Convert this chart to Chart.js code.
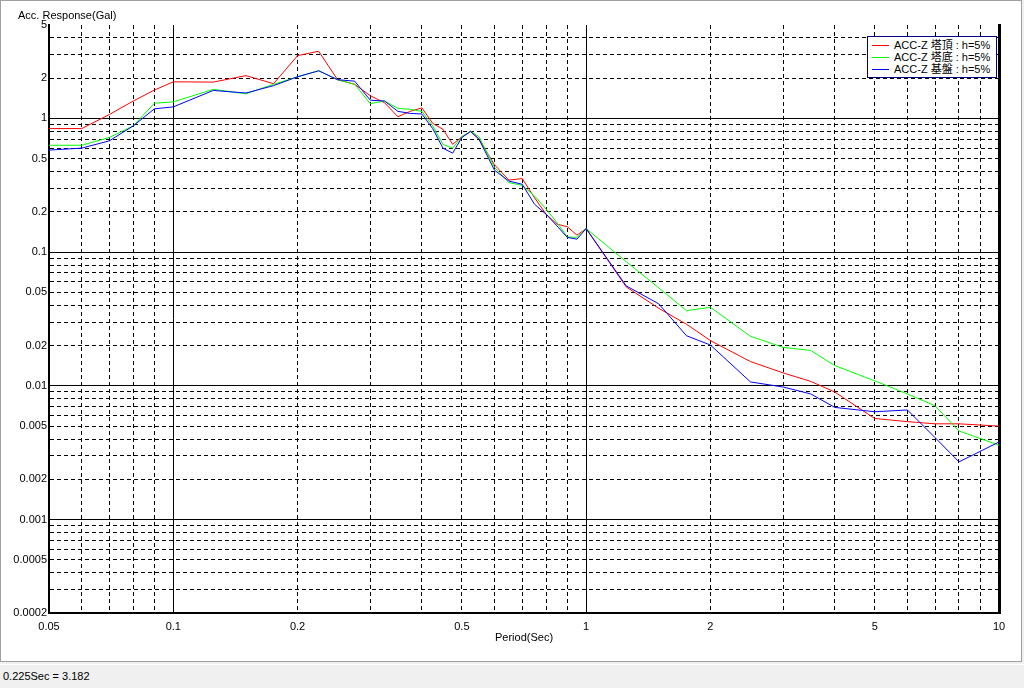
<!DOCTYPE html>
<html lang="ja">
<head>
    <meta charset="UTF-8">
    <title>Acc. Response</title>
    <script src="https://cdn.jsdelivr.net/npm/chart.js"></script>
    <style>
        body { margin: 0; background: #f0f0f0; font-family: "Liberation Sans", Arial, sans-serif; }
        #frame { position: absolute; left: 0; top: 0; width: 1020px; height: 660px; border: 1px solid #a0a0a0; background: #fff; }
        #frame canvas { position: absolute; left: 0; top: 0; }
        #ytitle { position: absolute; left: 17px; top: 8px; font-size: 11px; line-height: 13px; color: #000; }
        #legend { position: absolute; left: 866px; top: 35px; width: 128px; border: 1px solid #000080; background: #fff;
                  font-family: "Liberation Sans", "Noto Sans CJK JP", sans-serif; font-size: 11px; padding: 2px 0 2px 0; }
        #legend div { height: 12px; line-height: 12px; display: flex; align-items: center; white-space: nowrap; }
        #legend span.ln { display: inline-block; width: 17px; height: 1px; margin: 0 5px 0 4px; }
        #status { position: absolute; left: 0; top: 664px; width: 1024px; height: 24px; border-top: 1px solid #fff;
                  font-size: 11px; line-height: 22px; padding-left: 3px; color: #000; }
    </style>
</head>
<body>

<div id="frame">
    <canvas id="resp" width="1020" height="660"></canvas>
    <div id="ytitle">Acc. Response(Gal)</div>
    <div id="legend"></div>
</div>
<div id="status">0.225Sec = 3.182</div>

<script>
// periods (sec)
const periods = [0.05, 0.06, 0.07, 0.08, 0.09, 0.1, 0.125, 0.15, 0.175, 0.2, 0.225, 0.25, 0.275, 0.3, 0.325, 0.35, 0.375, 0.4,
    0.425, 0.45, 0.475, 0.5, 0.525, 0.55, 0.6, 0.65, 0.7, 0.75, 0.8, 0.85, 0.9, 0.95, 1, 1.25, 1.5, 1.75, 2, 2.5, 3, 3.5,
    4, 5, 6, 7, 8, 10];

// 塔頂
const accTop = [0.84, 0.84, 1.07, 1.35, 1.63, 1.88, 1.87, 2.09, 1.82, 2.95, 3.182, 1.95, 1.80, 1.48, 1.31, 1.03, 1.13, 1.20,
    0.92, 0.83, 0.64, 0.73, 0.80, 0.70, 0.45, 0.346, 0.355, 0.255, 0.192, 0.162, 0.155, 0.134, 0.15, 0.055, 0.038, 0.0289,
    0.0218, 0.0152, 0.0125, 0.0108, 0.009, 0.0057, 0.0054, 0.0052, 0.0052, 0.0050];
// 塔底
const accBase = [0.63, 0.63, 0.72, 0.88, 1.30, 1.33, 1.65, 1.53, 1.80, 2.05, 2.28, 1.95, 1.80, 1.29, 1.35, 1.19, 1.17, 1.13,
    0.88, 0.64, 0.60, 0.73, 0.80, 0.73, 0.43, 0.331, 0.316, 0.263, 0.21, 0.166, 0.13, 0.129, 0.15, 0.085, 0.054, 0.0365,
    0.0387, 0.0235, 0.0194, 0.0184, 0.0142, 0.0109, 0.0087, 0.0071, 0.0046, 0.0036];
// 基盤
const accGround = [0.58, 0.60, 0.68, 0.88, 1.18, 1.22, 1.62, 1.55, 1.76, 2.05, 2.27, 1.95, 1.90, 1.37, 1.35, 1.13, 1.09, 1.08,
    0.84, 0.60, 0.55, 0.72, 0.80, 0.70, 0.41, 0.34, 0.322, 0.228, 0.192, 0.157, 0.129, 0.125, 0.15, 0.056, 0.041, 0.0237,
    0.0202, 0.0107, 0.0098, 0.0087, 0.0069, 0.0064, 0.0066, 0.0041, 0.0027, 0.0038];

const seriesNames = ['ACC-Z 塔頂 : h=5%', 'ACC-Z 塔底 : h=5%', 'ACC-Z 基盤 : h=5%'];
const seriesColors = ['#ff0000', '#00ff00', '#0000ff'];

// labelled ticks
const xTickLabels = ['0.05', '0.1', '0.2', '0.5', '1', '2', '5', '10'];
const yTickLabels = ['5', '2', '1', '0.5', '0.2', '0.1', '0.05', '0.02', '0.01', '0.005', '0.002', '0.001', '0.0005', '0.0002'];

const xMin = 0.05, xMax = 10, yMin = 0.0002, yMax = 5;

// grid values: 1..9 x 10^n inside the range
function gridValues(min, max) {
    const out = [];
    for (let e = Math.floor(Math.log10(min)); e <= Math.ceil(Math.log10(max)); e++) {
        for (let k = 1; k <= 9; k++) {
            const v = Number((k * Math.pow(10, e)).toPrecision(2));
            if (v >= min * 0.9999 && v <= max * 1.0001) out.push(v);
        }
    }
    return out;
}
const isDecade = v => Math.abs(Math.log10(v) - Math.round(Math.log10(v))) < 1e-6;
const labelFor = (list, v) => {
    const hit = list.find(s => Math.abs(parseFloat(s) - v) / v < 1e-6);
    return hit === undefined ? '' : hit;
};

const pts = arr => periods.map((p, i) => ({ x: p, y: arr[i] }));
const tickFont = { family: '"Liberation Sans", Arial, sans-serif', size: 11 };

const ctx = document.getElementById('resp').getContext('2d');
const chart = new Chart(ctx, {
    type: 'line',
    data: {
        datasets: [accTop, accBase, accGround].map((arr, i) => ({
            label: seriesNames[i],
            data: pts(arr),
            borderColor: seriesColors[i],
            backgroundColor: seriesColors[i],
            borderWidth: 1,
            pointRadius: 0,
            tension: 0,
            fill: false,
            order: 3 - i
        }))
    },
    options: {
        responsive: false,
        animation: false,
        events: [],
        layout: { padding: { left: 0, top: 24, right: 22, bottom: 12 } },
        plugins: { legend: { display: false }, tooltip: { enabled: false } },
        scales: {
            x: {
                type: 'logarithmic',
                min: xMin, max: xMax,
                afterBuildTicks: s => { s.ticks = gridValues(xMin, xMax).map(v => ({ value: v })); },
                afterFit: s => { s.height = 36; },
                ticks: {
                    autoSkip: false, maxRotation: 0, padding: 7, color: '#000', font: tickFont,
                    callback: v => labelFor(xTickLabels, v)
                },
                grid: {
                    drawTicks: false, lineWidth: 1,
                    color: c => (c.tick && c.tick.value >= xMax * 0.9999) ? 'rgba(0,0,0,0)' : '#000'
                },
                border: { display: true, color: '#000', width: 2,
                    dash: c => (c.tick && !isDecade(c.tick.value)) ? [4, 3] : [] },
                title: { display: true, text: 'Period(Sec)', color: '#000', font: tickFont, padding: { top: 0, bottom: 4 } }
            },
            y: {
                type: 'logarithmic',
                min: yMin, max: yMax,
                afterBuildTicks: s => { s.ticks = gridValues(yMin, yMax).map(v => ({ value: v })); },
                afterFit: s => { s.width = 48; },
                ticks: {
                    autoSkip: false, padding: 2, color: '#000', font: tickFont,
                    callback: v => labelFor(yTickLabels, v)
                },
                grid: {
                    drawTicks: false, lineWidth: 1,
                    color: c => (c.tick && c.tick.value >= yMax * 0.9999) ? 'rgba(0,0,0,0)' : '#000'
                },
                border: { display: true, color: '#000', width: 2,
                    dash: c => (c.tick && !isDecade(c.tick.value)) ? [4, 3] : [] }
            },
            // right frame edge only
            yR: {
                type: 'linear', position: 'right', min: 0, max: 1,
                afterFit: s => { s.width = 0; },
                ticks: { display: false },
                grid: { display: false, drawTicks: false },
                border: { display: true, color: '#000', width: 3 }
            }
        }
    }
});

// legend box
const legend = document.getElementById('legend');
seriesNames.forEach((name, i) => {
    const row = document.createElement('div');
    const ln = document.createElement('span');
    ln.className = 'ln';
    ln.style.background = seriesColors[i];
    row.appendChild(ln);
    row.appendChild(document.createTextNode(name));
    legend.appendChild(row);
});
</script>

</body>
</html>
